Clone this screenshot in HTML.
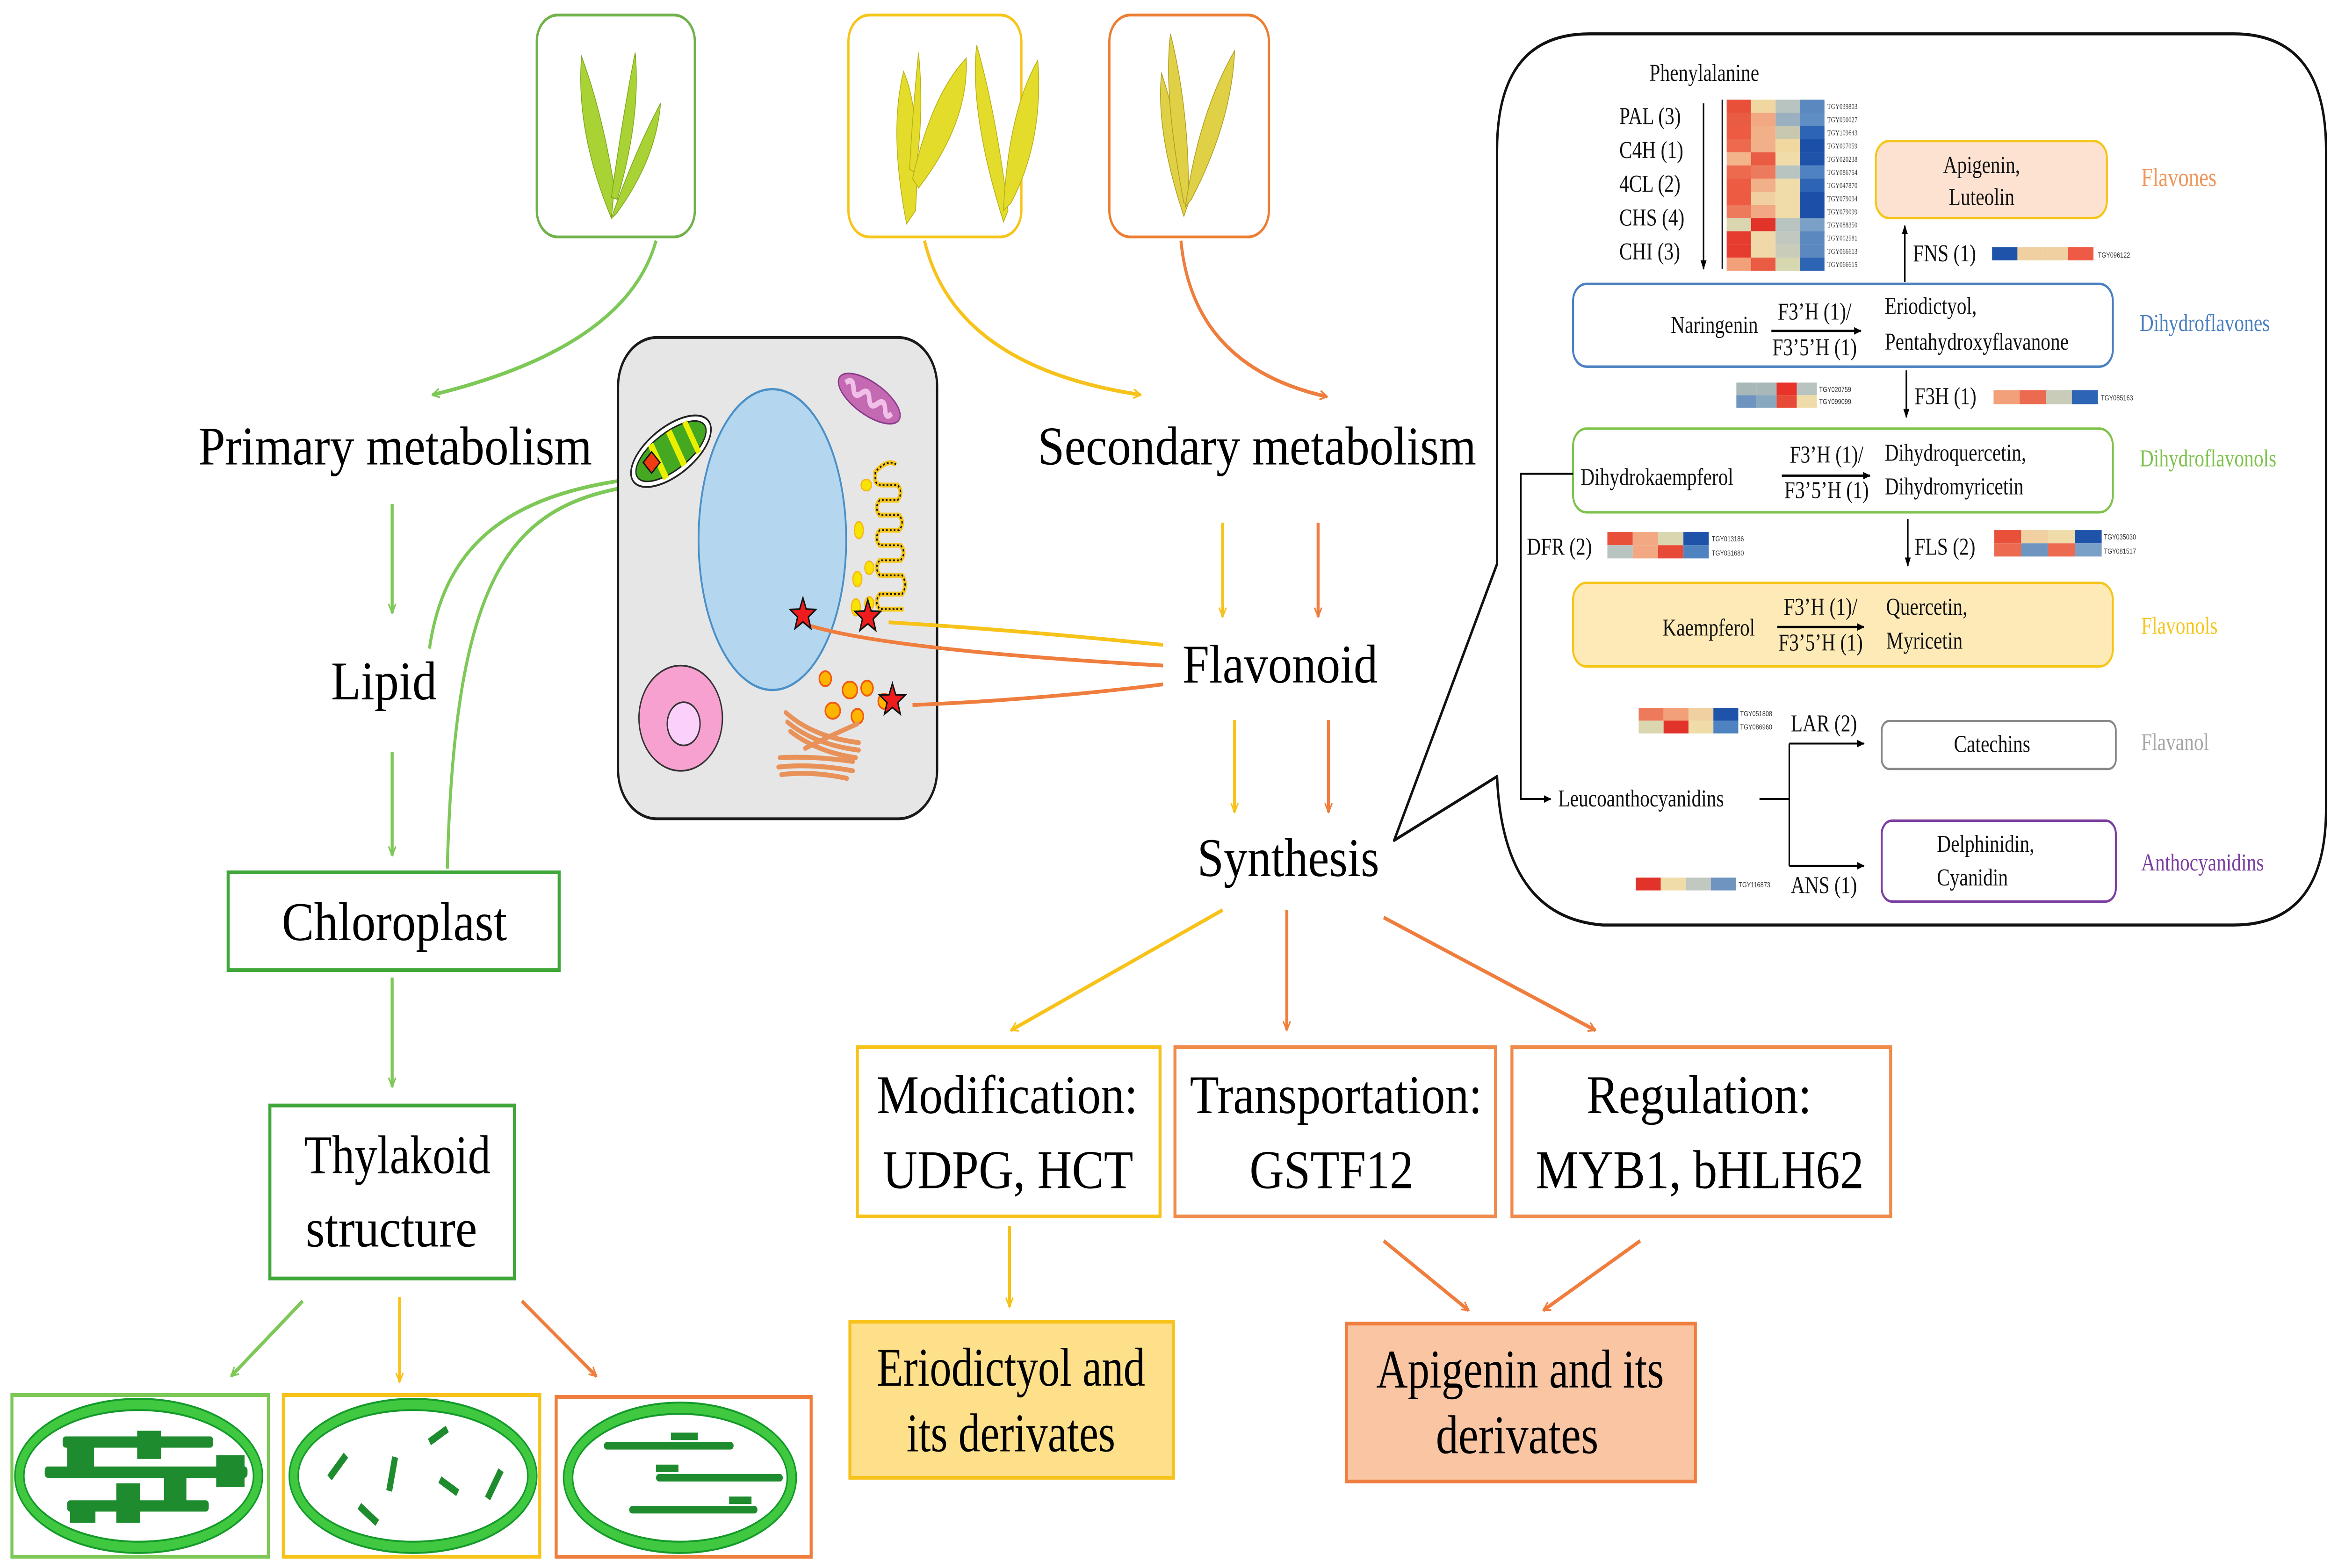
<!DOCTYPE html>
<html><head><meta charset="utf-8"><style>
html,body{margin:0;padding:0;background:#fff;overflow:hidden;width:100vw;height:100vh;}
svg{display:block;width:100vw;height:100vh;}
text{font-family:"Liberation Serif",serif;}
.big{font-size:29px;fill:#000;}
.s{font-size:13px;fill:#111;}
.t{font-family:"Liberation Sans",sans-serif;font-size:4px;fill:#333;}
</style></head><body>
<svg xmlns="http://www.w3.org/2000/svg" viewBox="0 0 1568 834" preserveAspectRatio="none">
<defs>
<marker id="ag" viewBox="0 0 10 10" refX="9" refY="5" markerWidth="6" markerHeight="6" orient="auto" markerUnits="userSpaceOnUse"><path d="M1 1 L9 5 L1 9" fill="none" stroke="#7dc857" stroke-width="1.6"/></marker>
<marker id="ay" viewBox="0 0 10 10" refX="9" refY="5" markerWidth="6" markerHeight="6" orient="auto" markerUnits="userSpaceOnUse"><path d="M1 1 L9 5 L1 9" fill="none" stroke="#f7c21a" stroke-width="1.6"/></marker>
<marker id="ao" viewBox="0 0 10 10" refX="9" refY="5" markerWidth="6" markerHeight="6" orient="auto" markerUnits="userSpaceOnUse"><path d="M1 1 L9 5 L1 9" fill="none" stroke="#ef7e3e" stroke-width="1.6"/></marker>
<marker id="ak" viewBox="0 0 10 10" refX="9" refY="5" markerWidth="5" markerHeight="5" orient="auto" markerUnits="userSpaceOnUse"><path d="M0 1 L10 5 L0 9 Z" fill="#000"/></marker>
</defs>

<rect x="360" y="8" width="106" height="118" rx="14" fill="#fff" stroke="#6fb24a" stroke-width="1.5"/>
<rect x="569" y="8" width="116" height="118" rx="14" fill="#fff" stroke="#f5c518" stroke-width="1.5"/>
<rect x="744" y="8" width="107" height="118" rx="14" fill="#fff" stroke="#ed7d31" stroke-width="1.5"/>
<g fill="#a9d234" stroke="#7fa820" stroke-width="0.5">
<path d="M410 116 Q386 70 390 30 Q404 60 412 100 Z"/>
<path d="M410 105 Q418 60 426 28 Q430 62 414 106 Z"/>
<path d="M410 116 Q426 80 443 55 Q440 85 413 114 Z"/>
</g>
<g fill="#e4dc2a" stroke="#b8b018" stroke-width="0.5">
<path d="M608 119 Q596 70 606 38 Q618 60 614 112 Z"/>
<path d="M610 90 Q612 60 616 28 Q620 60 614 92 Z"/>
<path d="M612 95 Q625 50 648 31 Q650 65 616 100 Z"/>
<path d="M673 118 Q650 60 655 24 Q668 60 676 112 Z"/>
<path d="M673 112 Q676 60 696 32 Q700 75 678 108 Z"/>
</g>
<g fill="#e0d046" stroke="#b0a020" stroke-width="0.5">
<path d="M794 115 Q775 70 779 39 Q792 70 797 108 Z"/>
<path d="M794 108 Q780 50 785 18 Q798 60 797 108 Z"/>
<path d="M795 110 Q804 60 828 27 Q826 65 799 106 Z"/>
</g>

<path d="M440 128 Q420 185 290 210" fill="none" stroke="#7dc857" stroke-width="2" marker-end="url(#ag)"/>
<path d="M620 128 Q640 195 765 210" fill="none" stroke="#f7c21a" stroke-width="2" marker-end="url(#ay)"/>
<path d="M792 128 Q800 195 890 211" fill="none" stroke="#ef7e3e" stroke-width="2" marker-end="url(#ao)"/>

<text class="big" x="133" y="247" textLength="264" lengthAdjust="spacingAndGlyphs">Primary metabolism</text>
<line x1="263" y1="268" x2="263" y2="326" stroke="#7dc857" stroke-width="2" marker-end="url(#ag)"/>
<text class="big" x="222" y="372" textLength="71" lengthAdjust="spacingAndGlyphs">Lipid</text>
<line x1="263" y1="400" x2="263" y2="455" stroke="#7dc857" stroke-width="2" marker-end="url(#ag)"/>
<rect x="153" y="464" width="222" height="52" fill="#fff" stroke="#3fa63a" stroke-width="2"/>
<text class="big" x="189" y="500" textLength="151" lengthAdjust="spacingAndGlyphs">Chloroplast</text>
<line x1="263" y1="520" x2="263" y2="578" stroke="#7dc857" stroke-width="2" marker-end="url(#ag)"/>
<rect x="181" y="588" width="164" height="92" fill="#fff" stroke="#3fa63a" stroke-width="2"/>
<text class="big" x="204" y="624" textLength="125" lengthAdjust="spacingAndGlyphs">Thylakoid</text>
<text class="big" x="205" y="663" textLength="115" lengthAdjust="spacingAndGlyphs">structure</text>
<line x1="203" y1="692" x2="155" y2="732" stroke="#7dc857" stroke-width="2" marker-end="url(#ag)"/>
<line x1="268" y1="690" x2="268" y2="735" stroke="#f7c21a" stroke-width="2" marker-end="url(#ay)"/>
<line x1="350" y1="692" x2="400" y2="732" stroke="#ef7e3e" stroke-width="2" marker-end="url(#ao)"/>

<rect x="8" y="742" width="172" height="86" fill="#fff" stroke="#7dc857" stroke-width="2"/>
<rect x="190" y="742" width="172" height="86" fill="#fff" stroke="#f7c21a" stroke-width="2"/>
<rect x="373" y="743" width="171" height="85" fill="#fff" stroke="#ef7e3e" stroke-width="2"/>
<g fill="none">
<ellipse cx="93" cy="785" rx="80" ry="38" stroke="#40c840" stroke-width="6"/>
<ellipse cx="93" cy="785" rx="83" ry="41" stroke="#149a2a" stroke-width="1"/>
<ellipse cx="93" cy="785" rx="77" ry="35" stroke="#149a2a" stroke-width="1"/>
<ellipse cx="277" cy="785" rx="80" ry="38" stroke="#40c840" stroke-width="6"/>
<ellipse cx="277" cy="785" rx="83" ry="41" stroke="#149a2a" stroke-width="1"/>
<ellipse cx="277" cy="785" rx="77" ry="35" stroke="#149a2a" stroke-width="1"/>
<ellipse cx="456" cy="786" rx="75" ry="37" stroke="#40c840" stroke-width="6"/>
<ellipse cx="456" cy="786" rx="78" ry="40" stroke="#149a2a" stroke-width="1"/>
<ellipse cx="456" cy="786" rx="72" ry="34" stroke="#149a2a" stroke-width="1"/>
</g>
<g fill="#1e8c2e">
<rect x="42" y="764" width="101" height="6" rx="2"/>
<rect x="92" y="761" width="16" height="15"/>
<rect x="45" y="766" width="18" height="17"/>
<rect x="30" y="780" width="136" height="6" rx="2"/>
<rect x="145" y="774" width="19" height="17"/>
<rect x="110" y="785" width="15" height="17"/>
<rect x="45" y="798" width="95" height="6" rx="2"/>
<rect x="47" y="800" width="17" height="10"/>
<rect x="78" y="789" width="16" height="21"/>
<rect x="405" y="767" width="87" height="4" rx="2"/>
<rect x="450" y="762" width="18" height="4"/>
<rect x="440" y="779" width="15" height="4"/>
<rect x="440" y="784" width="85" height="4" rx="2"/>
<rect x="489" y="796" width="15" height="4"/>
<rect x="422" y="801" width="86" height="4" rx="2"/>
</g>
<g stroke="#1e8c2e" stroke-width="4">
<line x1="300" y1="760" x2="288" y2="767"/>
<line x1="232" y1="774" x2="221" y2="786"/>
<line x1="265" y1="775" x2="261" y2="793"/>
<line x1="336" y1="782" x2="327" y2="797"/>
<line x1="295" y1="787" x2="307" y2="794"/>
<line x1="241" y1="801" x2="253" y2="810"/>
</g>

<path d="M432 254 C340 262 298 290 288 345" fill="none" stroke="#7dc857" stroke-width="2"/>
<path d="M428 258 C345 268 305 300 300 462" fill="none" stroke="#7dc857" stroke-width="2"/>

<rect x="414.5" y="179.5" width="214" height="256" rx="26" fill="#e6e6e6" stroke="#1a1a1a" stroke-width="1.5"/>
<ellipse cx="518" cy="287" rx="49.5" ry="80" fill="#b4d6ee" stroke="#4a90c8" stroke-width="1.2"/>
<g transform="rotate(-30 450 240)">
<ellipse cx="450" cy="240" rx="30" ry="13.5" fill="#fff" stroke="#222" stroke-width="1"/>
<ellipse cx="450" cy="240" rx="26.5" ry="10.5" fill="#44a820" stroke="#222" stroke-width="0.8"/>
<rect x="438" y="230" width="4" height="21" fill="#e8f000"/>
<rect x="452" y="230" width="4" height="21" fill="#e8f000"/>
<rect x="464" y="231" width="3.5" height="19" fill="#e8f000"/>
</g>
<rect x="433" y="242" width="8" height="8" fill="#f03c10" stroke="#111" stroke-width="0.8" transform="rotate(45 437 246)"/>
<g transform="rotate(28 583 212)">
<ellipse cx="583" cy="212" rx="23" ry="9" fill="#c46ab2" stroke="#8a3a8a" stroke-width="0.8"/>
<path d="M565 212 q3 -5 6 0 t6 0 t6 0 t6 0 t6 0 t5 0" fill="none" stroke="#f0c0e8" stroke-width="3"/>
</g>
<path d="M601 247 Q595 244 587 251 L587 255 Q587 258 592 258 L602 258 Q606 262 602 266 L590 266 Q586 270 590 274 L603 274 Q607 278 603 282 L590 282 Q586 286 590 290 L604 290 Q608 294 604 298 L590 298 Q586 302 590 306 L605 306 Q609 311 605 316 L590 316 Q586 320 590 324 L606 324" fill="none" stroke="#f5c518" stroke-width="2.6"/>
<path d="M601 247 Q595 244 587 251 L587 255 Q587 258 592 258 L602 258 Q606 262 602 266 L590 266 Q586 270 590 274 L603 274 Q607 278 603 282 L590 282 Q586 286 590 290 L604 290 Q608 294 604 298 L590 298 Q586 302 590 306 L605 306 Q609 311 605 316 L590 316 Q586 320 590 324 L606 324" fill="none" stroke="#111" stroke-width="0.9" stroke-dasharray="1.2 1.4"/>
<g fill="#f8e400" stroke="#f5b818" stroke-width="0.8">
<ellipse cx="581" cy="258" rx="3.5" ry="3"/>
<ellipse cx="576" cy="282" rx="3" ry="4.5"/>
<ellipse cx="583" cy="302" rx="3" ry="3.5"/>
<ellipse cx="575" cy="308" rx="3" ry="4"/>
<ellipse cx="574" cy="323" rx="3" ry="4.5"/>
<ellipse cx="583" cy="321" rx="3" ry="3.5"/>
</g>
<ellipse cx="456.5" cy="382" rx="28" ry="28" fill="#f7a1d0" stroke="#333" stroke-width="0.9"/>
<ellipse cx="458.5" cy="385" rx="11" ry="11.5" fill="#fbd0fb" stroke="#333" stroke-width="0.9"/>
<g fill="#ffb400" stroke="#f05a10" stroke-width="1">
<circle cx="553.5" cy="361" r="4"/>
<ellipse cx="570" cy="367" rx="5" ry="4.5"/>
<circle cx="581.5" cy="366" r="4"/>
<ellipse cx="558.5" cy="378" rx="5" ry="4.3"/>
<circle cx="575" cy="381" r="4"/>
<circle cx="593" cy="373" r="4"/>
</g>
<g fill="none" stroke="#e8925a" stroke-width="2.6" stroke-linecap="round">
<path d="M527 379 Q545 392 576 395"/>
<path d="M528 384 Q546 396 576 399"/>
<path d="M530 389 Q548 400 574 403"/>
<path d="M523 403 Q545 402 572 405"/>
<path d="M522 408 Q545 406 572 410"/>
<path d="M524 412 Q545 410 568 414"/>
<path d="M540 398 Q555 392 575 385"/>
</g>
<path d="M596 331 Q680 335 780 343" fill="none" stroke="#f7c21a" stroke-width="2"/>
<path d="M544 333 Q600 346 780 354" fill="none" stroke="#ef7e3e" stroke-width="2"/>
<path d="M612 375 Q700 372 780 364" fill="none" stroke="#ef7e3e" stroke-width="2"/>
<g fill="#ee1c1c" stroke="#111" stroke-width="0.9">
<path transform="translate(538.5 327)" d="M0 -9 L2.2 -3 L8.6 -2.8 L3.6 1.2 L5.3 7.3 L0 3.8 L-5.3 7.3 L-3.6 1.2 L-8.6 -2.8 L-2.2 -3 Z"/>
<path transform="translate(582 328)" d="M0 -9 L2.2 -3 L8.6 -2.8 L3.6 1.2 L5.3 7.3 L0 3.8 L-5.3 7.3 L-3.6 1.2 L-8.6 -2.8 L-2.2 -3 Z"/>
<path transform="translate(598.5 372.5)" d="M0 -9 L2.2 -3 L8.6 -2.8 L3.6 1.2 L5.3 7.3 L0 3.8 L-5.3 7.3 L-3.6 1.2 L-8.6 -2.8 L-2.2 -3 Z"/>
</g>

<text class="big" x="696" y="247" textLength="294" lengthAdjust="spacingAndGlyphs">Secondary metabolism</text>
<line x1="820" y1="278" x2="820" y2="328" stroke="#f7c21a" stroke-width="2" marker-end="url(#ay)"/>
<line x1="884" y1="278" x2="884" y2="328" stroke="#ef7e3e" stroke-width="2" marker-end="url(#ao)"/>
<text class="big" x="793" y="363" textLength="131" lengthAdjust="spacingAndGlyphs">Flavonoid</text>
<line x1="828" y1="383" x2="828" y2="432" stroke="#f7c21a" stroke-width="2" marker-end="url(#ay)"/>
<line x1="891" y1="383" x2="891" y2="432" stroke="#ef7e3e" stroke-width="2" marker-end="url(#ao)"/>
<text class="big" x="803" y="466" textLength="122" lengthAdjust="spacingAndGlyphs">Synthesis</text>
<line x1="820" y1="484" x2="678" y2="548" stroke="#f7c21a" stroke-width="2" marker-end="url(#ay)"/>
<line x1="863" y1="484" x2="863" y2="548" stroke="#ef7e3e" stroke-width="2" marker-end="url(#ao)"/>
<line x1="928" y1="488" x2="1070" y2="548" stroke="#ef7e3e" stroke-width="2" marker-end="url(#ao)"/>

<rect x="575" y="557" width="203" height="90" fill="#fff" stroke="#f7c21a" stroke-width="2"/>
<rect x="788" y="557" width="215" height="90" fill="#fff" stroke="#ef8a4a" stroke-width="2"/>
<rect x="1014" y="557" width="254" height="90" fill="#fff" stroke="#ef8a4a" stroke-width="2"/>
<text class="big" x="588" y="592" textLength="175" lengthAdjust="spacingAndGlyphs">Modification:</text>
<text class="big" x="592" y="632" textLength="168" lengthAdjust="spacingAndGlyphs">UDPG, HCT</text>
<text class="big" x="798" y="592" textLength="196" lengthAdjust="spacingAndGlyphs">Transportation:</text>
<text class="big" x="838" y="632" textLength="110" lengthAdjust="spacingAndGlyphs">GSTF12</text>
<text class="big" x="1064" y="592" textLength="151" lengthAdjust="spacingAndGlyphs">Regulation:</text>
<text class="big" x="1030" y="632" textLength="220" lengthAdjust="spacingAndGlyphs">MYB1, bHLH62</text>
<line x1="677" y1="652" x2="677" y2="695" stroke="#f7c21a" stroke-width="2" marker-end="url(#ay)"/>
<line x1="928" y1="660" x2="985" y2="697" stroke="#ef7e3e" stroke-width="2" marker-end="url(#ao)"/>
<line x1="1100" y1="660" x2="1035" y2="697" stroke="#ef7e3e" stroke-width="2" marker-end="url(#ao)"/>
<rect x="570" y="703" width="217" height="83" fill="#fee08a" stroke="#f7c21a" stroke-width="2"/>
<rect x="903" y="704" width="234" height="84" fill="#f9c5a2" stroke="#ef7e3e" stroke-width="2"/>
<text class="big" x="588" y="737" textLength="180" lengthAdjust="spacingAndGlyphs">Eriodictyol and</text>
<text class="big" x="608" y="772" textLength="140" lengthAdjust="spacingAndGlyphs">its derivates</text>
<text class="big" x="923" y="738" textLength="193" lengthAdjust="spacingAndGlyphs">Apigenin and its</text>
<text class="big" x="963" y="773" textLength="109" lengthAdjust="spacingAndGlyphs">derivates</text>

<path d="M1004 300 L1004 80 Q1004 18 1066 18 L1498 18 Q1560 18 1560 80 L1560 430 Q1560 492 1498 492 L1075 492 Q1008 488 1004 413 L935 447 Z" fill="#fff" stroke="#111" stroke-width="1.6" stroke-linejoin="round"/>
<text class="s" x="1143" y="43" text-anchor="middle" font-size="12">Phenylalanine</text>
<text class="s" x="1086" y="66">PAL (3)</text>
<text class="s" x="1086" y="84">C4H (1)</text>
<text class="s" x="1086" y="102">4CL (2)</text>
<text class="s" x="1086" y="120">CHS (4)</text>
<text class="s" x="1086" y="138">CHI (3)</text>
<line x1="1142.5" y1="55" x2="1142.5" y2="143" stroke="#000" stroke-width="1" marker-end="url(#ak)"/>
<line x1="1155" y1="53" x2="1155" y2="143" stroke="#000" stroke-width="0.8"/>
<g>
<rect x="1158" y="53" width="16.4" height="7" fill="#e8503a"/><rect x="1174.4" y="53" width="16.4" height="7" fill="#f0d7a0"/><rect x="1190.8" y="53" width="16.4" height="7" fill="#b8c4c0"/><rect x="1207.2" y="53" width="16.4" height="7" fill="#5a88bf"/>
<rect x="1158" y="60" width="16.4" height="7" fill="#ea5b43"/><rect x="1174.4" y="60" width="16.4" height="7" fill="#f2a883"/><rect x="1190.8" y="60" width="16.4" height="7" fill="#9ab0c0"/><rect x="1207.2" y="60" width="16.4" height="7" fill="#5f8ec4"/>
<rect x="1158" y="67" width="16.4" height="7" fill="#ec5b42"/><rect x="1174.4" y="67" width="16.4" height="7" fill="#f2b088"/><rect x="1190.8" y="67" width="16.4" height="7" fill="#c8c8b0"/><rect x="1207.2" y="67" width="16.4" height="7" fill="#2e64b4"/>
<rect x="1158" y="74" width="16.4" height="7" fill="#ee6a4f"/><rect x="1174.4" y="74" width="16.4" height="7" fill="#f2b088"/><rect x="1190.8" y="74" width="16.4" height="7" fill="#f0d8a0"/><rect x="1207.2" y="74" width="16.4" height="7" fill="#1c4fa8"/>
<rect x="1158" y="81" width="16.4" height="7" fill="#f2b488"/><rect x="1174.4" y="81" width="16.4" height="7" fill="#ea5b43"/><rect x="1190.8" y="81" width="16.4" height="7" fill="#f0dca8"/><rect x="1207.2" y="81" width="16.4" height="7" fill="#1f53aa"/>
<rect x="1158" y="88" width="16.4" height="7" fill="#ee6a4f"/><rect x="1174.4" y="88" width="16.4" height="7" fill="#ec7a5c"/><rect x="1190.8" y="88" width="16.4" height="7" fill="#b8c4c0"/><rect x="1207.2" y="88" width="16.4" height="7" fill="#4e82c0"/>
<rect x="1158" y="95" width="16.4" height="7" fill="#ec5b42"/><rect x="1174.4" y="95" width="16.4" height="7" fill="#f2b088"/><rect x="1190.8" y="95" width="16.4" height="7" fill="#f0dca8"/><rect x="1207.2" y="95" width="16.4" height="7" fill="#2e64b4"/>
<rect x="1158" y="102" width="16.4" height="7" fill="#ec5b42"/><rect x="1174.4" y="102" width="16.4" height="7" fill="#f0d0a0"/><rect x="1190.8" y="102" width="16.4" height="7" fill="#f0dca8"/><rect x="1207.2" y="102" width="16.4" height="7" fill="#1c4fa8"/>
<rect x="1158" y="109" width="16.4" height="7" fill="#ee7a5c"/><rect x="1174.4" y="109" width="16.4" height="7" fill="#f2a883"/><rect x="1190.8" y="109" width="16.4" height="7" fill="#f0dca8"/><rect x="1207.2" y="109" width="16.4" height="7" fill="#1c4fa8"/>
<rect x="1158" y="116" width="16.4" height="7" fill="#dad6b0"/><rect x="1174.4" y="116" width="16.4" height="7" fill="#e2332a"/><rect x="1190.8" y="116" width="16.4" height="7" fill="#b8c4c0"/><rect x="1207.2" y="116" width="16.4" height="7" fill="#7aa0c8"/>
<rect x="1158" y="123" width="16.4" height="7" fill="#e63c30"/><rect x="1174.4" y="123" width="16.4" height="7" fill="#f0d8a8"/><rect x="1190.8" y="123" width="16.4" height="7" fill="#c0c8c0"/><rect x="1207.2" y="123" width="16.4" height="7" fill="#5a88bf"/>
<rect x="1158" y="130" width="16.4" height="7" fill="#e63c30"/><rect x="1174.4" y="130" width="16.4" height="7" fill="#f0d8a8"/><rect x="1190.8" y="130" width="16.4" height="7" fill="#c8ccb8"/><rect x="1207.2" y="130" width="16.4" height="7" fill="#5a88bf"/>
<rect x="1158" y="137" width="16.4" height="7" fill="#f2a07a"/><rect x="1174.4" y="137" width="16.4" height="7" fill="#ea5b43"/><rect x="1190.8" y="137" width="16.4" height="7" fill="#d8d8b0"/><rect x="1207.2" y="137" width="16.4" height="7" fill="#2e64b4"/>
</g>
<g class="t">
<text x="1225.5" y="58">TGY039803</text><text x="1225.5" y="65">TGY090027</text><text x="1225.5" y="72">TGY109643</text><text x="1225.5" y="79">TGY097059</text><text x="1225.5" y="86">TGY020238</text><text x="1225.5" y="93">TGY086754</text><text x="1225.5" y="100">TGY047870</text><text x="1225.5" y="107">TGY079094</text><text x="1225.5" y="114">TGY079099</text><text x="1225.5" y="121">TGY088350</text><text x="1225.5" y="128">TGY002581</text><text x="1225.5" y="135">TGY066613</text><text x="1225.5" y="142">TGY066615</text>
</g>
<rect x="1258" y="75" width="155" height="41" rx="9" fill="#fde2d2" stroke="#f5c518" stroke-width="1.3"/>
<text class="s" x="1329" y="92" text-anchor="middle" font-size="14">Apigenin,</text>
<text class="s" x="1329" y="109" text-anchor="middle" font-size="14">Luteolin</text>
<text x="1436" y="99" font-size="14" fill="#f0965a">Flavones</text>
<line x1="1277.5" y1="150" x2="1277.5" y2="120" stroke="#000" stroke-width="1" marker-end="url(#ak)"/>
<text class="s" x="1283" y="139">FNS (1)</text>
<rect x="1336" y="131.5" width="17" height="7" fill="#1f53aa"/><rect x="1353" y="131.5" width="17" height="7" fill="#f0d0a0"/><rect x="1370" y="131.5" width="17" height="7" fill="#f0d0a0"/><rect x="1387" y="131.5" width="17" height="7" fill="#ee5a45"/>
<text class="t" x="1407" y="137">TGY096122</text>

<rect x="1055" y="151" width="362" height="44" rx="9" fill="#fff" stroke="#4a7fc0" stroke-width="1.3"/>
<text class="s" x="1179" y="177" text-anchor="end">Naringenin</text>
<text class="s" x="1217" y="170" text-anchor="middle">F3’H (1)/</text>
<line x1="1188" y1="176" x2="1248" y2="176" stroke="#000" stroke-width="1.2" marker-end="url(#ak)"/>
<text class="s" x="1217" y="189" text-anchor="middle">F3’5’H (1)</text>
<text class="s" x="1264" y="167">Eriodictyol,</text>
<text class="s" x="1264" y="186">Pentahydroxyflavanone</text>
<text x="1435" y="176" font-size="13" fill="#4a7fc0">Dihydroflavones</text>

<line x1="1278.5" y1="197" x2="1278.5" y2="222" stroke="#000" stroke-width="1" marker-end="url(#ak)"/>
<text class="s" x="1284" y="215">F3H (1)</text>
<rect x="1164.5" y="203.5" width="13.5" height="6.7" fill="#a8b8b8"/><rect x="1178" y="203.5" width="13.5" height="6.7" fill="#a8b8b8"/><rect x="1191.5" y="203.5" width="13.5" height="6.7" fill="#e8322a"/><rect x="1205" y="203.5" width="13.5" height="6.7" fill="#b8c4c0"/>
<rect x="1164.5" y="210.2" width="13.5" height="6.7" fill="#6e94c0"/><rect x="1178" y="210.2" width="13.5" height="6.7" fill="#88a8c0"/><rect x="1191.5" y="210.2" width="13.5" height="6.7" fill="#e84a38"/><rect x="1205" y="210.2" width="13.5" height="6.7" fill="#f0dca8"/>
<text class="t" x="1220" y="208.5">TGY020759</text><text class="t" x="1220" y="215">TGY099099</text>
<rect x="1337" y="207.5" width="17.5" height="7.5" fill="#f2a07a"/><rect x="1354.5" y="207.5" width="17.5" height="7.5" fill="#ec6a50"/><rect x="1372" y="207.5" width="17.5" height="7.5" fill="#c8ccb8"/><rect x="1389.5" y="207.5" width="17.5" height="7.5" fill="#2e64b4"/>
<text class="t" x="1409" y="213">TGY085163</text>

<rect x="1055" y="228" width="362" height="44.5" rx="9" fill="#fff" stroke="#7dc24b" stroke-width="1.3"/>
<text class="s" x="1060" y="258">Dihydrokaempferol</text>
<text class="s" x="1225" y="246" text-anchor="middle">F3’H (1)/</text>
<line x1="1195" y1="253" x2="1254" y2="253" stroke="#000" stroke-width="1.2" marker-end="url(#ak)"/>
<text class="s" x="1225" y="265" text-anchor="middle">F3’5’H (1)</text>
<text class="s" x="1264" y="245">Dihydroquercetin,</text>
<text class="s" x="1264" y="263">Dihydromyricetin</text>
<text x="1435" y="248" font-size="13" fill="#7dc24b">Dihydroflavonols</text>

<polyline points="1055,252 1020,252 1020,425 1040,425" fill="none" stroke="#000" stroke-width="1" marker-end="url(#ak)"/>
<text class="s" x="1024" y="295">DFR (2)</text>
<rect x="1078" y="283" width="17" height="7" fill="#e8503a"/><rect x="1095" y="283" width="17" height="7" fill="#f2a883"/><rect x="1112" y="283" width="17" height="7" fill="#dad6b0"/><rect x="1129" y="283" width="17" height="7" fill="#1f53aa"/>
<rect x="1078" y="290" width="17" height="7" fill="#b8c4c0"/><rect x="1095" y="290" width="17" height="7" fill="#f2a883"/><rect x="1112" y="290" width="17" height="7" fill="#e84a38"/><rect x="1129" y="290" width="17" height="7" fill="#4e82c0"/>
<text class="t" x="1148" y="288">TGY013186</text><text class="t" x="1148" y="295.5">TGY031680</text>
<line x1="1279.5" y1="276" x2="1279.5" y2="301" stroke="#000" stroke-width="1" marker-end="url(#ak)"/>
<text class="s" x="1284" y="295">FLS (2)</text>
<rect x="1337.5" y="282" width="18" height="7" fill="#e8503a"/><rect x="1355.5" y="282" width="18" height="7" fill="#f0d0a0"/><rect x="1373.5" y="282" width="18" height="7" fill="#f0dca8"/><rect x="1391.5" y="282" width="18" height="7" fill="#1f53aa"/>
<rect x="1337.5" y="289" width="18" height="7" fill="#ec6a50"/><rect x="1355.5" y="289" width="18" height="7" fill="#6e94c0"/><rect x="1373.5" y="289" width="18" height="7" fill="#ec6a50"/><rect x="1391.5" y="289" width="18" height="7" fill="#7aa0c8"/>
<text class="t" x="1411" y="287">TGY035030</text><text class="t" x="1411" y="294.5">TGY081517</text>

<rect x="1055" y="310" width="362" height="44.5" rx="9" fill="#fdeab6" stroke="#f5c518" stroke-width="1.3"/>
<text class="s" x="1177" y="338" text-anchor="end">Kaempferol</text>
<text class="s" x="1221" y="327" text-anchor="middle">F3’H (1)/</text>
<line x1="1192" y1="333.5" x2="1250" y2="333.5" stroke="#000" stroke-width="1.2" marker-end="url(#ak)"/>
<text class="s" x="1221" y="346" text-anchor="middle">F3’5’H (1)</text>
<text class="s" x="1265" y="327">Quercetin,</text>
<text class="s" x="1265" y="345">Myricetin</text>
<text x="1436" y="337" font-size="13" fill="#f5c518">Flavonols</text>

<rect x="1099" y="376.5" width="16.7" height="6.8" fill="#ee7a5c"/><rect x="1115.7" y="376.5" width="16.7" height="6.8" fill="#f2a07a"/><rect x="1132.4" y="376.5" width="16.7" height="6.8" fill="#f0d0a0"/><rect x="1149.1" y="376.5" width="16.7" height="6.8" fill="#1f53aa"/>
<rect x="1099" y="383.3" width="16.7" height="6.8" fill="#dad6b0"/><rect x="1115.7" y="383.3" width="16.7" height="6.8" fill="#e2332a"/><rect x="1132.4" y="383.3" width="16.7" height="6.8" fill="#f0dca8"/><rect x="1149.1" y="383.3" width="16.7" height="6.8" fill="#4e82c0"/>
<text class="t" x="1167" y="381">TGY051808</text><text class="t" x="1167" y="388">TGY086960</text>
<text class="s" x="1201" y="389">LAR (2)</text>
<text class="s" x="1045" y="429">Leucoanthocyanidins</text>
<line x1="1180" y1="425" x2="1200" y2="425" stroke="#000" stroke-width="1"/>
<line x1="1200" y1="395.5" x2="1200" y2="460.5" stroke="#000" stroke-width="1"/>
<line x1="1200" y1="395.5" x2="1250" y2="395.5" stroke="#000" stroke-width="1" marker-end="url(#ak)"/>
<line x1="1200" y1="460.5" x2="1250" y2="460.5" stroke="#000" stroke-width="1" marker-end="url(#ak)"/>
<rect x="1262" y="383.5" width="157" height="25.5" rx="5" fill="#fff" stroke="#888" stroke-width="1.2"/>
<text class="s" x="1336" y="400" text-anchor="middle">Catechins</text>
<text x="1436" y="399" font-size="13" fill="#a6a6a6">Flavanol</text>
<rect x="1262" y="436.5" width="157" height="43" rx="7" fill="#fff" stroke="#7b3fa0" stroke-width="1.3"/>
<text class="s" x="1299" y="453">Delphinidin,</text>
<text class="s" x="1299" y="471">Cyanidin</text>
<text x="1436" y="463" font-size="13" fill="#7b3fa0">Anthocyanidins</text>
<text class="s" x="1201" y="475">ANS (1)</text>
<rect x="1097" y="466.8" width="16.8" height="6.8" fill="#e2332a"/><rect x="1113.8" y="466.8" width="16.8" height="6.8" fill="#f0dca8"/><rect x="1130.6" y="466.8" width="16.8" height="6.8" fill="#c0c8c0"/><rect x="1147.4" y="466.8" width="16.8" height="6.8" fill="#6e94c0"/>
<text class="t" x="1166" y="472">TGY116873</text>
</svg>
</body></html>
